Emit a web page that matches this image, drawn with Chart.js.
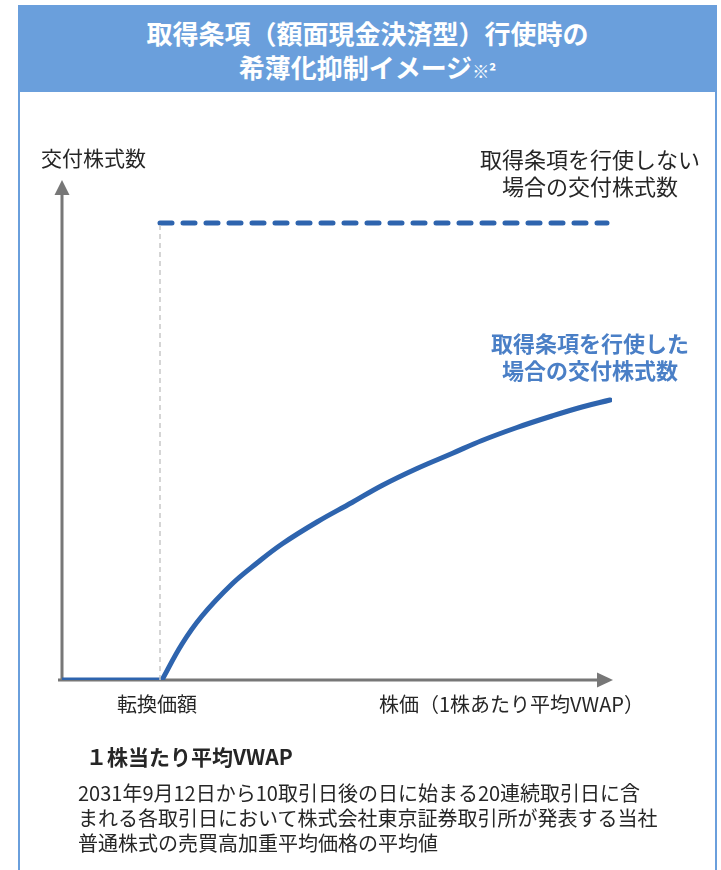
<!DOCTYPE html>
<html lang="ja">
<head>
<meta charset="utf-8">
<script src="https://cdn.jsdelivr.net/npm/chart.js@4"></script>
<style>
  body { margin: 0; background: #fff; font-family: "Noto Sans CJK JP", sans-serif; color: #262626; }
  #wrap { position: relative; width: 721px; height: 870px; overflow: hidden; }
  #frame { position: absolute; left: 18px; top: 5px; width: 695px; height: 900px; border: 2px solid #6a9fdc; border-top: none; }
  #head { position: absolute; left: 18px; top: 5px; width: 699px; height: 87px; background: #6a9fdc; color: #fff; font-weight: bold; font-size: 26px; text-align: center; }
  #head div { position: absolute; left: 0; right: 0; line-height: 34px; }
  canvas { position: absolute; left: 0; top: 0; }
  .lbl { position: absolute; white-space: nowrap; line-height: 27px; }
</style>
</head>
<body>
<div id="wrap">
  <div id="frame"></div>
  <div id="head">
    <div style="top:11px">取得条項（額面現金決済型）行使時の</div>
    <div style="top:45px">希薄化抑制イメージ<span style="font-size:17px">※²</span></div>
  </div>
  <canvas id="chart" width="721" height="870"></canvas>
  <div class="lbl" style="left:41px;top:144px;font-size:21px">交付株式数</div>
  <div class="lbl" style="left:470px;width:240px;top:145px;font-size:22px;text-align:center">取得条項を行使しない<br>場合の交付株式数</div>
  <div class="lbl" style="left:470px;width:240px;top:329px;font-size:22px;text-align:center;font-weight:bold;color:#4a7fc6">取得条項を行使した<br>場合の交付株式数</div>
  <div class="lbl" style="left:117px;top:690px;font-size:20px">転換価額</div>
  <div class="lbl" style="left:379px;top:690px;font-size:20px">株価（1株あたり平均VWAP）</div>
  <div class="lbl" style="left:86px;top:743px;font-size:21px;font-weight:bold">１株当たり平均VWAP</div>
  <div class="lbl" style="left:78px;top:780px;font-size:20px;line-height:25px">2031年9月12日から10取引日後の日に始まる20連続取引日に含<br>まれる各取引日において株式会社東京証券取引所が発表する当社<br>普通株式の売買高加重平均価格の平均値</div>
</div>
<script>
// 横軸：株価（1株あたり平均VWAP）、縦軸：交付株式数（相対値）
const conversionPrice = 19.6;
const flatX = [0, 20];
const flatY = [0, 0];
const curveX = [20, 24, 28, 34, 39, 44, 51, 58, 64, 71, 78, 84, 91, 98, 104, 109.6];
const curveY = [0, 7.2, 12.8, 19.2, 23.4, 27.2, 31.6, 35.5, 38.9, 42.3, 45.3, 47.9, 50.5, 52.8, 54.6, 56];
const noExerciseX = [19.6, 109];
const noExerciseY = [91.4, 91.4];

const toPoints = (xs, ys) => xs.map((x, i) => ({ x: x, y: ys[i] }));

// 矢印付きの軸を描く
const arrowAxes = {
  id: 'arrowAxes',
  beforeDatasetsDraw(chart) {
    const c = chart.ctx;
    const a = chart.chartArea;
    c.save();
    c.strokeStyle = '#777';
    c.fillStyle = '#777';
    c.lineWidth = 3;
    c.beginPath();
    c.moveTo(a.left, a.bottom);
    c.lineTo(a.left, a.top + 14);
    c.moveTo(a.left - 4, a.bottom);
    c.lineTo(a.right - 14, a.bottom);
    c.stroke();
    c.beginPath();
    c.moveTo(a.left, a.top);
    c.lineTo(a.left - 7.5, a.top + 15);
    c.lineTo(a.left + 7.5, a.top + 15);
    c.closePath();
    c.fill();
    c.beginPath();
    c.moveTo(a.right + 1, a.bottom);
    c.lineTo(a.right - 15, a.bottom - 7.5);
    c.lineTo(a.right - 15, a.bottom + 7.5);
    c.closePath();
    c.fill();
    c.restore();
  }
};

new Chart(document.getElementById('chart'), {
  type: 'scatter',
  data: {
    datasets: [
      {
        data: toPoints([conversionPrice, conversionPrice], [0, noExerciseY[0]]),
        showLine: true,
        borderColor: '#c8c8c8',
        borderWidth: 1.5,
        borderDash: [5, 4],
        pointRadius: 0
      },
      {
        data: toPoints(noExerciseX, noExerciseY),
        showLine: true,
        borderColor: '#2e64ae',
        borderWidth: 5,
        borderDash: [12, 11],
        borderCapStyle: 'round',
        pointRadius: 0
      },
      {
        data: toPoints(flatX, flatY),
        showLine: true,
        borderColor: '#2e64ae',
        borderWidth: 5,
        pointRadius: 0
      },
      {
        data: toPoints(curveX, curveY),
        showLine: true,
        borderColor: '#2e64ae',
        borderWidth: 5,
        borderCapStyle: 'round',
        tension: 0.4,
        pointRadius: 0
      }
    ]
  },
  options: {
    responsive: false,
    animation: false,
    layout: { padding: { left: 62, right: 109, top: 180, bottom: 190 } },
    plugins: { legend: { display: false }, tooltip: { enabled: false } },
    scales: {
      x: { type: 'linear', display: false, min: 0, max: 110 },
      y: { type: 'linear', display: false, min: 0, max: 100 }
    }
  },
  plugins: [arrowAxes]
});
</script>
</body>
</html>
